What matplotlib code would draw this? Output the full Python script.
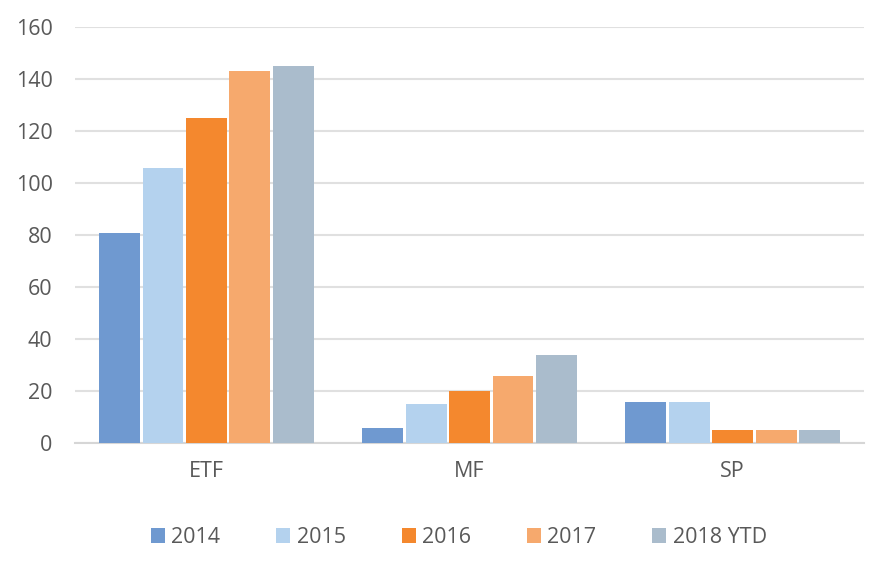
import numpy as np
import matplotlib.pyplot as plt

plt.rcParams['font.family'] = ['Open Sans', 'DejaVu Sans']

categories = ['ETF', 'MF', 'SP']
series_names = ['2014', '2015', '2016', '2017', '2018 YTD']
values_2014 = [81, 6, 16]
values_2015 = [106, 15, 16]
values_2016 = [125, 20, 5]
values_2017 = [143, 26, 5]
values_2018 = [145, 34, 5]
colors = ['#6f99d0', '#b4d2ee', '#f4882e', '#f6a96d', '#aabccc']

all_values = [values_2014, values_2015, values_2016, values_2017, values_2018]

fig = plt.figure(figsize=(8.91, 5.66), dpi=100)
ax = fig.add_axes([0.084, 0.217, 0.886, 0.735])

x = np.arange(len(categories))
slot = 0.165
bar_w = 0.155
for i, vals in enumerate(all_values):
    offset = (i - 2) * slot
    ax.bar(x + offset, vals, width=bar_w, color=colors[i], label=series_names[i], zorder=3)

ax.set_xlim(-0.5, len(categories) - 0.5)
ax.set_ylim(0, 160)
ax.set_yticks(np.arange(0, 161, 20))
ax.set_xticks(x)
ax.set_xticklabels(categories)
ax.grid(axis='y', color='#e0e0e0', linewidth=1.5, zorder=0)
for s in ['top', 'right', 'left']:
    ax.spines[s].set_visible(False)
ax.spines['bottom'].set_color('#d6d6d6')
ax.spines['bottom'].set_linewidth(1.5)
ax.tick_params(axis='both', length=0, colors='#595959', labelsize=15.5)
ax.tick_params(axis='x', pad=13)
ax.tick_params(axis='y', pad=16)

leg = fig.legend(loc='center', bbox_to_anchor=(0.515, 0.05), ncol=5, frameon=False,
                 fontsize=15.5, handlelength=0.65, handleheight=0.65, handletextpad=0.3,
                 columnspacing=2.6)
for t in leg.get_texts():
    t.set_color('#595959')

fig.savefig('out.png', dpi=100)
